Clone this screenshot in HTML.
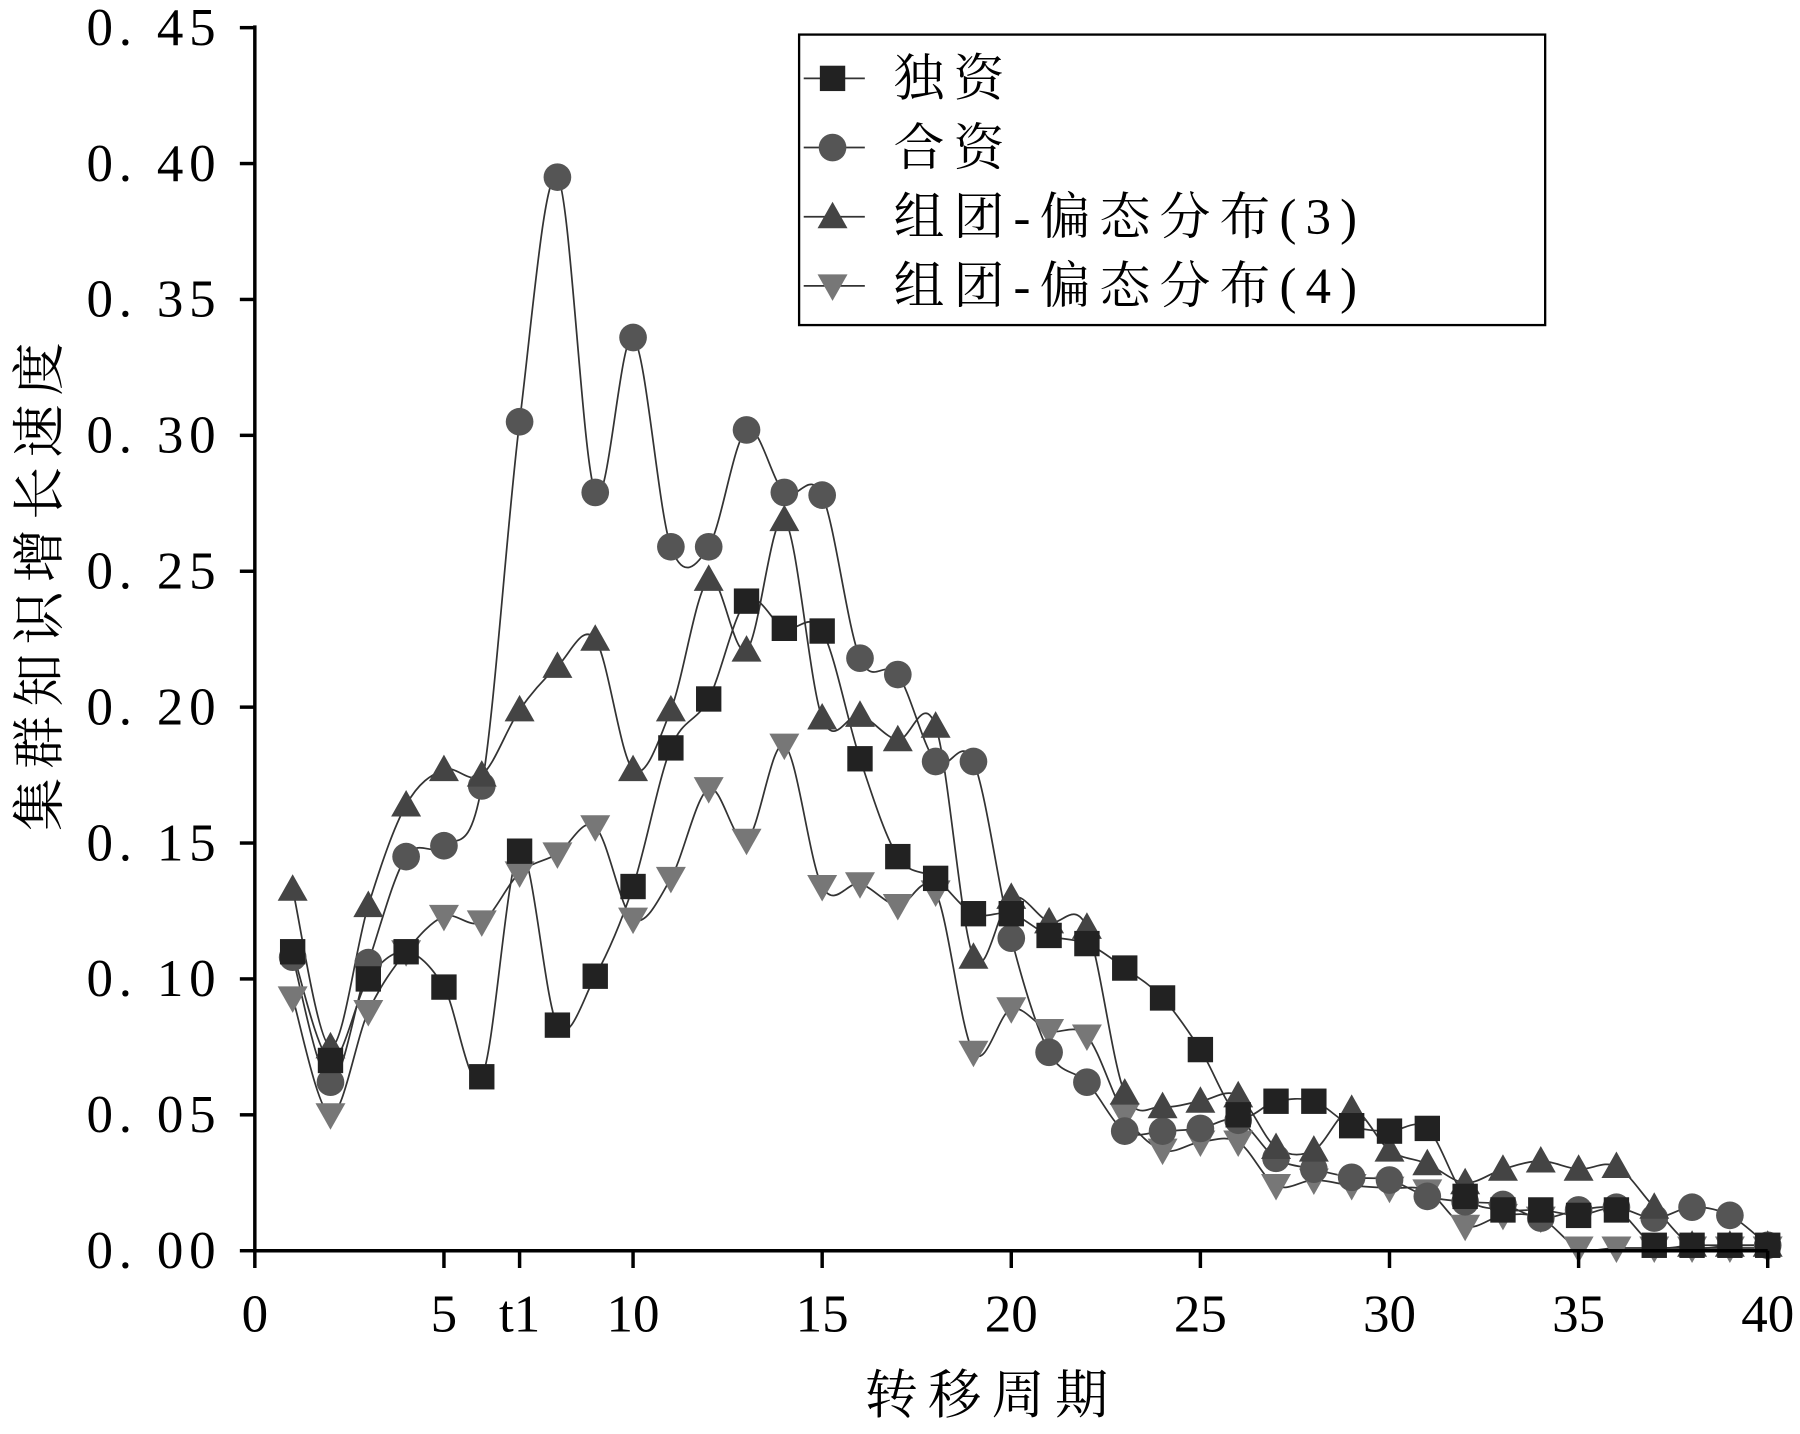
<!DOCTYPE html>
<html><head><meta charset="utf-8"><style>body{margin:0;background:#fff}svg{display:block}</style></head>
<body>
<svg id="s" width="1800" height="1434" viewBox="0 0 1561 1244" preserveAspectRatio="none" xmlns="http://www.w3.org/2000/svg">
<rect width="1561" height="1244" fill="#fff"/>
<g id="series"></g>
<g stroke="#000" stroke-width="3" fill="none">
<line x1="221" y1="22" x2="221" y2="1086"/>
<line x1="219" y1="1085" x2="1533" y2="1085"/>
</g>
<g id="ticks" stroke="#000" stroke-width="3"></g>
<g id="labels" font-family="Liberation Serif, serif" font-size="46" fill="#000"></g>
<text transform="translate(50,505) rotate(-90)" text-anchor="middle" font-family="Liberation Serif, 'Noto Serif CJK SC', serif" font-size="46" letter-spacing="8" fill="#000">集群知识增长速度</text>
<text x="860" y="1226" text-anchor="middle" font-family="Liberation Serif, 'Noto Serif CJK SC', serif" font-size="46" letter-spacing="9" fill="#000">转移周期</text>
<rect x="693" y="30" width="647" height="252" fill="#fff" stroke="#000" stroke-width="2"/>
<g id="legend" font-family="Liberation Serif, 'Noto Serif CJK SC', serif" font-size="44" letter-spacing="8" fill="#000"></g>
</svg>
<script>
const NS="http://www.w3.org/2000/svg";
const X=t=>221+t*32.8, Y=v=>1085-v*(1061/0.45);
function el(tag,a,p){const e=document.createElementNS(NS,tag);for(const k in a)e.setAttribute(k,a[k]);p.appendChild(e);return e;}
const tk=document.getElementById('ticks'),lb=document.getElementById('labels');
for(let i=0;i<=9;i++){const v=i*0.05,y=Y(v);el('line',{x1:208,y1:y,x2:221,y2:y},tk);
 const t=el('text',{x:192,y:y+15,'text-anchor':'end','letter-spacing':5},lb);t.textContent='0. '+(i*5<10?'0':'')+(i*5);}
const xt=[[0,'0'],[5,'5'],[7,'t1'],[10,'10'],[15,'15'],[20,'20'],[25,'25'],[30,'30'],[35,'35'],[40,'40']];
xt.forEach(([t,s])=>{el('line',{x1:X(t),y1:1085,x2:X(t),y2:1100},tk);const e=el('text',{x:X(t),y:1155,'text-anchor':'middle'},lb);e.textContent=s;});
const D={
sq:[0.11,0.07,0.10,0.11,0.097,0.064,0.147,0.083,0.101,0.134,0.185,0.203,0.239,0.229,0.228,0.181,0.145,0.137,0.124,0.124,0.116,0.113,0.104,0.093,0.074,0.05,0.055,0.055,0.046,0.044,0.045,0.02,0.015,0.015,0.013,0.015,0.002,0.002,0.002,0.002],
ci:[0.108,0.062,0.106,0.145,0.149,0.171,0.305,0.395,0.279,0.336,0.259,0.259,0.302,0.279,0.278,0.218,0.212,0.18,0.18,0.115,0.073,0.062,0.044,0.044,0.045,0.048,0.034,0.03,0.027,0.026,0.02,0.018,0.017,0.012,0.015,0.016,0.012,0.016,0.013,0.002],
up:[0.133,0.075,0.127,0.164,0.177,0.175,0.199,0.215,0.225,0.177,0.199,0.247,0.221,0.269,0.196,0.197,0.188,0.193,0.108,0.13,0.121,0.119,0.058,0.053,0.055,0.057,0.038,0.037,0.052,0.037,0.032,0.025,0.03,0.033,0.03,0.031,0.016,0.002,0.002,0.002],
dn:[0.093,0.05,0.088,0.11,0.123,0.121,0.139,0.146,0.156,0.122,0.137,0.17,0.151,0.186,0.134,0.135,0.127,0.132,0.073,0.089,0.081,0.079,0.05,0.037,0.04,0.04,0.024,0.026,0.024,0.023,0.022,0.009,0.013,0.012,0.001,0.001,0.001,0.001,0.001,0.001]};
const C={sq:'#222',ci:'#555',up:'#444',dn:'#777'};
function mk(type,x,y,p){const c=C[type];
 if(type=='sq')el('rect',{x:x-11,y:y-11,width:22,height:22,fill:c},p);
 else if(type=='ci')el('circle',{cx:x,cy:y,r:12,fill:c},p);
 else if(type=='up')el('polygon',{points:`${x},${y-13} ${x-13},${y+10} ${x+13},${y+10}`,fill:c},p);
 else el('polygon',{points:`${x},${y+13} ${x-13},${y-10} ${x+13},${y-10}`,fill:c},p);}
const g=document.getElementById('series');
['dn','ci','up','sq'].forEach(k=>{const pts=D[k].map((v,i)=>[X(i+1),Y(v)]);
 let d='M'+pts[0];for(let i=0;i<pts.length-1;i++){const p0=pts[Math.max(0,i-1)],p1=pts[i],p2=pts[i+1],p3=pts[Math.min(pts.length-1,i+2)];
 const c1=[p1[0]+(p2[0]-p0[0])/6,p1[1]+(p2[1]-p0[1])/6],c2=[p2[0]-(p3[0]-p1[0])/6,p2[1]-(p3[1]-p1[1])/6];d+=` C${c1} ${c2} ${p2}`;}
 el('path',{d:d,fill:'none',stroke:'#333','stroke-width':1.5},g);});
['dn','ci','up','sq'].forEach(k=>D[k].forEach((v,i)=>mk(k,X(i+1),Y(v),g)));
const lg=document.getElementById('legend');
[['sq','独资'],['ci','合资'],['up','组团-偏态分布(3)'],['dn','组团-偏态分布(4)']].forEach(([k,s],i)=>{const y=68+i*60;
 el('line',{x1:697,y1:y,x2:750,y2:y,stroke:'#333','stroke-width':1.5},lg);mk(k,722,y,lg);
 const t=el('text',{x:775,y:y+15},lg);t.textContent=s;});
</script>
</body></html>
